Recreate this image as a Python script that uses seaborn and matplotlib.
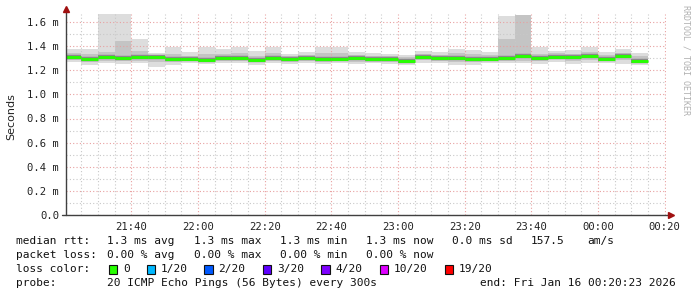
import matplotlib
matplotlib.use("Agg")
import matplotlib.pyplot as plt
import seaborn as sns
import pandas as pd
import numpy as np
from matplotlib.patches import Rectangle

# ---------------- data ----------------
bin_start = ["21:20", "21:25", "21:30", "21:35", "21:40", "21:45", "21:50", "21:55",
             "22:00", "22:05", "22:10", "22:15", "22:20", "22:25", "22:30", "22:35",
             "22:40", "22:45", "22:50", "22:55", "23:00", "23:05", "23:10", "23:15",
             "23:20", "23:25", "23:30", "23:35", "23:40", "23:45", "23:50", "23:55",
             "00:00", "00:05", "00:10"]
# median rtt (ms)
med = [1.31, 1.29, 1.31, 1.30, 1.31, 1.31, 1.295, 1.295, 1.285, 1.30, 1.30, 1.285,
       1.30, 1.29, 1.30, 1.295, 1.295, 1.30, 1.29, 1.29, 1.278, 1.31, 1.305, 1.30,
       1.29, 1.29, 1.30, 1.32, 1.30, 1.31, 1.31, 1.315, 1.29, 1.315, 1.28]
# smoke: outer range (min..max ping)
hi = [1.38, 1.375, 1.70, 1.70, 1.46, 1.345, 1.395, 1.35, 1.39, 1.375, 1.395, 1.36,
      1.39, 1.335, 1.35, 1.39, 1.395, 1.35, 1.34, 1.335, 1.325, 1.36, 1.35, 1.375,
      1.37, 1.35, 1.65, 1.66, 1.39, 1.36, 1.37, 1.39, 1.355, 1.375, 1.34]
lo = [1.266, 1.243, 1.258, 1.25, 1.26, 1.23, 1.24, 1.258, 1.25, 1.258, 1.258, 1.24,
      1.258, 1.252, 1.258, 1.25, 1.258, 1.252, 1.258, 1.25, 1.243, 1.262, 1.262, 1.243,
      1.243, 1.258, 1.258, 1.262, 1.25, 1.27, 1.25, 1.258, 1.262, 1.25, 1.243]
# smoke: inner range
hi2 = [1.345, 1.335, 1.35, 1.44, 1.36, 1.33, 1.335, 1.32, 1.335, 1.335, 1.34, 1.32,
       1.345, 1.32, 1.325, 1.345, 1.345, 1.325, 1.32, 1.315, 1.31, 1.335, 1.33, 1.34,
       1.335, 1.325, 1.46, 1.66, 1.335, 1.34, 1.335, 1.355, 1.33, 1.345, 1.315]
lo2 = [1.285, 1.27, 1.28, 1.275, 1.28, 1.27, 1.27, 1.275, 1.265, 1.275, 1.275, 1.265,
       1.275, 1.27, 1.275, 1.27, 1.275, 1.27, 1.27, 1.27, 1.26, 1.285, 1.28, 1.27,
       1.27, 1.275, 1.28, 1.28, 1.275, 1.29, 1.28, 1.285, 1.275, 1.285, 1.26]

x_tick_labels = ["21:40", "22:00", "22:20", "22:40", "23:00", "23:20", "23:40", "00:00", "00:20"]
y_tick_values = [0.0, 0.2, 0.4, 0.6, 0.8, 1.0, 1.2, 1.4, 1.6]
y_tick_labels = ["0.0", "0.2 m", "0.4 m", "0.6 m", "0.8 m", "1.0 m", "1.2 m", "1.4 m", "1.6 m"]

loss_labels = ["0", "1/20", "2/20", "3/20", "4/20", "10/20", "19/20"]
loss_colors = ["#26ff00", "#00b8ff", "#0059ff", "#5e00ff", "#7e00ff", "#dd00ff", "#ff0000"]

row1 = ["median rtt:", "1.3 ms avg", "1.3 ms max", "1.3 ms min", "1.3 ms now", "0.0 ms sd", "157.5", "am/s"]
row2 = ["packet loss:", "0.00 % avg", "0.00 % max", "0.00 % min", "0.00 % now"]
row3_title = "loss color:"
row4 = ["probe:", "20 ICMP Echo Pings (56 Bytes) every 300s", "end: Fri Jan 16 00:20:23 2026"]
y_label = "Seconds"
credit = "RRDTOOL / TOBI OETIKER"

start_time = "21:20:23"
end_time = "00:20:23"


# ---------------- helpers ----------------
def to_min(s):
    parts = [int(p) for p in s.split(":")]
    h, m = parts[0], parts[1]
    sec = parts[2] if len(parts) > 2 else 0
    if h < 21:
        h += 24
    return (h - 21) * 60 + m + sec / 60.0


W, H = 697, 297
sns.set_style("white")
plt.rcParams["font.family"] = ["DejaVu Sans Mono"]

fig = plt.figure(figsize=(W / 100, H / 100), dpi=100)
ax_l, ax_r, ax_t, ax_b = 66, 666, 14, 215
ax = fig.add_axes([ax_l / W, 1 - ax_b / H, (ax_r - ax_l) / W, (ax_b - ax_t) / H])

x = np.array([to_min(s) for s in bin_start])
hi_a, lo_a = np.array(hi), np.array(lo)
hi2_a, lo2_a = np.array(hi2), np.array(lo2)

ax.bar(x, hi_a - lo_a, bottom=lo_a, width=5, align="edge", color="#dddddd",
       linewidth=0, zorder=1)
ax.bar(x, hi2_a - lo2_a, bottom=lo2_a, width=5, align="edge", color="#c4c4c4",
       linewidth=0, zorder=1.2)

# median: one horizontal segment per 5-minute bin
seg_t, seg_v, seg_id = [], [], []
for i, (t, v) in enumerate(zip(x, med)):
    seg_t += [t, t + 5]
    seg_v += [v, v]
    seg_id += [i, i]
df = pd.DataFrame({"t": seg_t, "med": seg_v, "bin": seg_id})
sns.lineplot(data=df, x="t", y="med", units="bin", color="#8a8a8a",
             linewidth=3.2, estimator=None, ax=ax, zorder=2.8, solid_capstyle="butt")
sns.lineplot(data=df, x="t", y="med", units="bin", color=loss_colors[0],
             linewidth=2.1, estimator=None, ax=ax, zorder=3, solid_capstyle="butt")

x0, x1 = to_min(start_time), to_min(end_time)
ax.set_xlim(x0, x1)
ymax = 1.6 * (ax_b - ax_t) / (ax_b - 22)
ax.set_ylim(0, ymax)

ax.set_xticks([to_min(s) for s in x_tick_labels])
ax.set_xticklabels(x_tick_labels, fontsize=7.6, color="#222222")
ax.set_xticks(np.arange(25, 200, 5), minor=True)
ax.set_yticks(y_tick_values)
ax.set_yticklabels(y_tick_labels, fontsize=7.6, color="#222222")
ax.set_yticks(np.arange(0.1, 1.65, 0.2), minor=True)

ax.set_axisbelow(False)
ax.grid(which="major", color="#e8a0a0", linestyle=(0, (1, 2)), linewidth=0.8)
ax.grid(which="minor", color="#c8c8c8", linestyle=(0, (1, 2)), linewidth=0.8)
for gl in ax.get_xgridlines() + ax.get_ygridlines():
    gl.set_zorder(2)

ax.tick_params(which="major", direction="inout", length=4, width=0.8, color="#555555", pad=3)
ax.tick_params(which="minor", direction="inout", length=2, width=0.8, color="#777777")
ax.set_xlabel("")
ax.set_ylabel("")
for sp in ax.spines.values():
    sp.set_visible(False)

# axes lines with arrows
ax.plot([0, 0], [0, 1 + 5 / (ax_b - ax_t)], transform=ax.transAxes, color="#404040",
        lw=1, clip_on=False, zorder=4)
ax.plot([-4 / 600, 1 + 4 / 600], [0, 0], transform=ax.transAxes, color="#404040",
        lw=1, clip_on=False, zorder=4)
ax.plot([0], [1 + 5 / (ax_b - ax_t)], marker="^", color="#a01010", ms=4,
        transform=ax.transAxes, clip_on=False, zorder=5)
ax.plot([1 + 5 / 600], [0], marker=">", color="#a01010", ms=4,
        transform=ax.transAxes, clip_on=False, zorder=5)

# y label & credit
fig.text(11 / W, 1 - 117 / H, y_label, rotation=90, ha="center", va="center",
         fontsize=8, family="DejaVu Sans", color="#222222")
fig.text(686 / W, 1 - 5 / H, credit, rotation=270, ha="center", va="top",
         fontsize=6, color="#b0b0b0")


def ptext(px, py, s):
    fig.text(px / W, 1 - py / H, s, ha="left", va="center", fontsize=8.0, color="#111111")


row1_x = [16, 107, 194, 280, 366, 452, 531, 587]
for px, s in zip(row1_x, row1):
    ptext(px, 241, s)
row2_x = [16, 107, 194, 280, 366]
for px, s in zip(row2_x, row2):
    ptext(px, 255, s)
ptext(16, 269, row3_title)
box_x = [108.5, 146.5, 204, 262.5, 321, 379.5, 444.5]
for bx, lab, col in zip(box_x, loss_labels, loss_colors):
    fig.patches.append(Rectangle((bx / W, 1 - 273.5 / H), 8.5 / W, 9 / H,
                                 transform=fig.transFigure, facecolor=col,
                                 edgecolor="#111111", linewidth=0.8))
    ptext(bx + 14.5, 269, lab)
row4_x = [16, 107, 480]
for px, s in zip(row4_x, row4):
    ptext(px, 283, s)

fig.savefig("out.png", dpi=100)
